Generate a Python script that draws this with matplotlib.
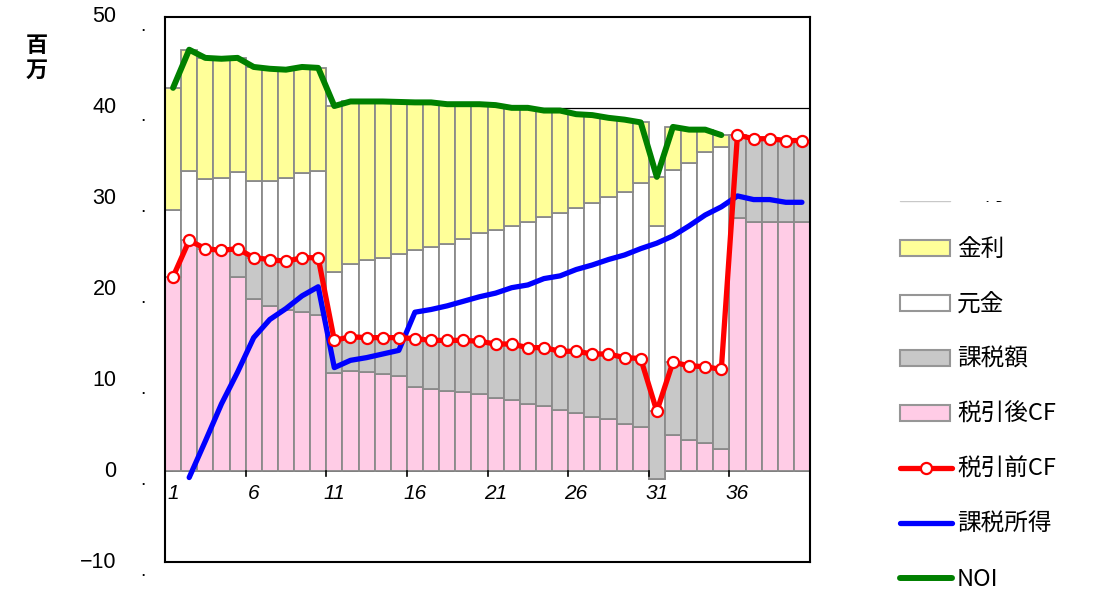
import matplotlib.pyplot as plt
from matplotlib.patches import Rectangle
import numpy as np

plt.rcParams['font.family'] = ['Liberation Sans', 'Noto Sans CJK JP', 'DejaVu Sans']

years = np.arange(1, 41)

# 税引後CF (million yen)
after_tax_cf = [21.4, 25.4, 24.5, 24.3, 21.4, 18.9, 18.2, 17.7, 17.5, 17.2,
                10.8, 11.0, 10.9, 10.7, 10.5, 9.3, 9.0, 8.8, 8.7, 8.5,
                8.1, 7.8, 7.4, 7.2, 6.7, 6.4, 6.0, 5.7, 5.2, 4.9,
                -0.9, 4.0, 3.4, 3.1, 2.4, 27.9, 27.4, 27.4, 27.4, 27.4]
# 課税額
tax = [0.0, 0.0, 0.0, 0.0, 3.1, 4.6, 5.1, 5.4, 6.0, 6.3,
       3.6, 3.8, 3.8, 4.0, 4.2, 5.3, 5.4, 5.6, 5.7, 5.8,
       5.9, 6.2, 6.2, 6.4, 6.5, 6.8, 6.9, 7.2, 7.3, 7.5,
       7.5, 8.0, 8.2, 8.4, 8.8, 9.1, 9.2, 9.2, 9.0, 9.0]
# 元金
principal = [7.3, 7.6, 7.7, 8.0, 8.4, 8.5, 8.7, 9.2, 9.3, 9.5,
             7.5, 8.0, 8.5, 8.8, 9.2, 9.8, 10.3, 10.6, 11.2, 11.9,
             12.5, 13.0, 13.8, 14.4, 15.2, 15.8, 16.6, 17.3, 18.25, 19.3,
             20.4, 21.15, 22.3, 23.6, 24.5, 0, 0, 0, 0, 0]
# 金利
interest = [13.5, 13.4, 13.3, 13.1, 12.6, 12.5, 12.3, 11.9, 11.7, 11.4,
            18.3, 17.9, 17.5, 17.2, 16.75, 16.2, 15.9, 15.4, 14.8, 14.2,
            13.8, 13.0, 12.6, 11.7, 11.3, 10.3, 9.7, 8.7, 7.95, 6.7,
            5.4, 4.75, 3.7, 2.5, 1.3, 0, 0, 0, 0, 0]

# 税引前CF, years 1-40
pre_tax_cf = [21.4, 25.4, 24.5, 24.3, 24.5, 23.5, 23.3, 23.1, 23.5, 23.5,
              14.4, 14.8, 14.7, 14.7, 14.7, 14.6, 14.4, 14.4, 14.4, 14.3,
              14.0, 14.0, 13.6, 13.6, 13.2, 13.2, 12.9, 12.9, 12.5, 12.4,
              6.6, 12.0, 11.6, 11.5, 11.2, 37.0, 36.6, 36.6, 36.4, 36.4]
# 課税所得, years 2-40
taxable_income = [-0.7, 3.3, 7.4, 10.9, 14.7, 16.7, 17.9, 19.3, 20.3,
                  11.4, 12.2, 12.5, 12.9, 13.3, 17.5, 17.8, 18.2, 18.7, 19.2,
                  19.6, 20.2, 20.5, 21.2, 21.5, 22.2, 22.7, 23.3, 23.8, 24.5,
                  25.1, 25.9, 27.0, 28.2, 29.1, 30.3, 29.9, 29.9, 29.6, 29.6]
# NOI, years 1-35
noi = [42.2, 46.4, 45.5, 45.4, 45.5, 44.5, 44.3, 44.2, 44.5, 44.4,
       40.2, 40.7, 40.7, 40.7, 40.65, 40.6, 40.6, 40.4, 40.4, 40.4,
       40.3, 40.0, 40.0, 39.7, 39.7, 39.3, 39.2, 38.9, 38.7, 38.4,
       32.4, 37.9, 37.6, 37.6, 37.0]

legend_labels = ['金利', '元金', '課税額', '税引後CF', '税引前CF', '課税所得', 'NOI']

PINK = '#ffcce6'
GREY = '#c8c8c8'
YELLOW = '#ffff99'
EDGE = '#8a8a8a'

W, H = 1097, 591
fig = plt.figure(figsize=(W / 100, H / 100), dpi=100)
ax = fig.add_axes([165 / W, 1 - 562 / H, 645 / W, 545 / H])

# stacked columns
bottom = np.zeros(len(years))
for vals, col in [(after_tax_cf, PINK), (tax, GREY), (principal, 'white'), (interest, YELLOW)]:
    ax.bar(years, vals, bottom=bottom, width=1.0, color=col,
           edgecolor=EDGE, linewidth=1.3, zorder=2)
    bottom = bottom + np.array(vals)

ax.axhline(40, color='black', lw=0.9, zorder=1)
ax.axhline(0, color='black', lw=1.2, zorder=1.5)

ax.plot(years[:len(noi)], noi, color='#008000', lw=4.3, zorder=4,
        solid_joinstyle='round', solid_capstyle='round')
ax.plot(years[1:], taxable_income, color='#0000ff', lw=3.8, zorder=5,
        solid_joinstyle='round', solid_capstyle='round')
ax.plot(years, pre_tax_cf, color='#ff0000', lw=3.8, zorder=6,
        marker='o', markersize=8, markerfacecolor='white',
        markeredgecolor='#ff0000', markeredgewidth=1.6)

ax.set_xlim(0.5, 40.5)
ax.set_ylim(-10, 50)
for s in ax.spines.values():
    s.set_color('black')
    s.set_linewidth(1.5)

# x ticks sit on the zero line, labels under it
ax.set_xticks([])
for xt in np.arange(5.5, 40, 5):
    ax.plot([xt, xt], [0, -0.55], color='black', lw=1.2, zorder=3, clip_on=False)
for xv in np.arange(1, 40, 5):
    ax.text(xv, -1.45, str(xv), fontsize=15, fontstyle='italic',
            ha='center', va='top')

yt = np.arange(-10, 51, 10)
ax.set_yticks(yt)
ax.set_yticklabels([])
ax.tick_params(axis='y', direction='in', length=6, width=1.2)
for v in yt:
    ax.text(-0.075, v, str(v).replace('-', '\u2212'), transform=ax.get_yaxis_transform(),
            fontsize=15.5, ha='right', va='center')
    ax.text(-0.034, v - 1.0, '.', transform=ax.get_yaxis_transform(),
            fontsize=14, ha='center', va='center')

# overlay in pixel coordinates for the unit label and legend
lax = fig.add_axes([0, 0, 1, 1], zorder=10)
lax.set_xlim(0, W)
lax.set_ylim(H, 0)
lax.axis('off')
lax.patch.set_alpha(0)

lax.text(37, 45, '百', fontsize=16, fontweight='bold', ha='center', va='center',
         family=['Noto Sans CJK JP'])
lax.text(37, 70, '万', fontsize=16, fontweight='bold', ha='center', va='center',
         family=['Noto Sans CJK JP'])

x0, x1, tx = 900, 950, 957
rows = [193, 248, 303, 358, 413, 468, 523, 578]
# first row is partly hidden by the plot edge
lax.add_patch(Rectangle((x0, rows[0] - 8), x1 - x0, 16, fc='white', ec='#c8c8c8', lw=1.0))
lax.text(tx, rows[0], '金利', fontsize=17, va='center', family=['Noto Sans CJK JP'])
lax.add_patch(Rectangle((870, 0), 230, 201, fc='white', ec='none', zorder=20))

fills = [YELLOW, 'white', GREY, PINK]
for yc, fc in zip(rows[1:5], fills):
    lax.add_patch(Rectangle((x0, yc - 8), x1 - x0, 16, fc=fc, ec='#969696', lw=1.5))
lax.plot([x0, x1 + 2], [rows[5], rows[5]], color='#ff0000', lw=3.8,
         solid_capstyle='round')
lax.plot([(x0 + x1) / 2 + 1], [rows[5]], marker='o', markersize=8, markerfacecolor='white',
         markeredgecolor='#ff0000', markeredgewidth=1.6)
lax.plot([x0, x1 + 2], [rows[6], rows[6]], color='#0000ff', lw=3.8, solid_capstyle='round')
lax.plot([x0, x1 + 2], [rows[7], rows[7]], color='#008000', lw=4.3, solid_capstyle='round')
for yc, lab in zip(rows[1:], legend_labels):
    lax.text(tx, yc + 1, lab, fontsize=17, va='center', family=['Noto Sans CJK JP'])

fig.savefig('out.png', dpi=100)
